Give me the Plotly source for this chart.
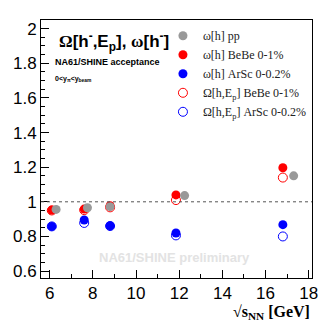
import plotly.graph_objects as go

# sqrt(s_NN) positions per system (slightly shifted in the original for visibility)
energy_pp = [6.3, 7.75, 8.8, 12.25, 17.3]
energy_bebe = [6.1, 7.6, 8.8, 11.85, 16.8]
energy_arsc = [6.1, 7.6, 8.8, 11.85, 16.8]

omega_pp = [0.956, 0.966, 0.972, 1.036, 1.15]
omega_bebe = [0.952, 0.958, 0.977, 1.04, 1.197]
omega_arsc = [0.858, 0.895, 0.862, 0.82, 0.868]
Omega_bebe = [0.95, 0.952, 0.968, 1.01, 1.14]
Omega_arsc = [0.858, 0.878, 0.86, 0.806, 0.80]

SERIF = "Liberation Serif"
SANS = "Liberation Sans"

fig = go.Figure()

# open markers first so the filled ones sit on top; legend order kept via rank
fig.add_trace(go.Scatter(
    x=energy_bebe, y=Omega_bebe, mode="markers",
    name="Ω[h,E<sub>p</sub>] BeBe 0-1%", legendrank=4,
    marker=dict(symbol="circle-open", size=9, color="#ff0000", line=dict(width=1)),
))
fig.add_trace(go.Scatter(
    x=energy_arsc, y=Omega_arsc, mode="markers",
    name="Ω[h,E<sub>p</sub>] ArSc 0-0.2%", legendrank=5,
    marker=dict(symbol="circle-open", size=9, color="#0000ff", line=dict(width=1)),
))
fig.add_trace(go.Scatter(
    x=energy_bebe, y=omega_bebe, mode="markers", name="ω[h] BeBe 0-1%",
    legendrank=2, marker=dict(symbol="circle", size=9, color="#ff0000"),
))
fig.add_trace(go.Scatter(
    x=energy_arsc, y=omega_arsc, mode="markers", name="ω[h] ArSc 0-0.2%",
    legendrank=3, marker=dict(symbol="circle", size=9, color="#0000ff"),
))
fig.add_trace(go.Scatter(
    x=energy_pp, y=omega_pp, mode="markers", name="ω[h] pp",
    legendrank=1, marker=dict(symbol="circle", size=9, color="#999999"),
))

fig.add_hline(y=1, line=dict(color="#555555", width=1, dash="dot"))

fig.update_layout(
    width=332, height=327,
    paper_bgcolor="white", plot_bgcolor="white",
    margin=dict(l=41, r=20, t=20, b=49, autoexpand=False),
    font=dict(family=SANS, size=17, color="black"),
    legend=dict(
        x=0.45, y=0.995, xanchor="left", yanchor="top",
        bgcolor="rgba(0,0,0,0)", borderwidth=0,
        font=dict(family=SERIF, size=12, color="#222222"),
        tracegroupgap=0, itemwidth=30,
    ),
)

fig.update_xaxes(
    range=[5.6, 18.15], dtick=2, tick0=6, automargin=False,
    showline=True, linecolor="black", linewidth=1, mirror=True,
    ticks="inside", ticklen=8, tickcolor="black",
    minor=dict(dtick=1, tick0=6, ticks="inside", ticklen=4, tickcolor="black"),
    showgrid=False, zeroline=False,
    tickfont=dict(family=SANS, size=17),
)
fig.update_yaxes(
    range=[0.56, 2.05], dtick=0.2, tick0=0.6, automargin=False,
    showline=True, linecolor="black", linewidth=1, mirror=True,
    ticks="inside", ticklen=8, tickcolor="black",
    minor=dict(dtick=0.05, tick0=0.6, ticks="inside", ticklen=4, tickcolor="black"),
    showgrid=False, zeroline=False,
    tickfont=dict(family=SANS, size=17),
)

annotations = [
    dict(text="<b><span style='font-family:Liberation Serif'>Ω</span>[h<sup>-</sup>,E<sub>p</sub>], "
              "<span style='font-family:Liberation Serif'>ω</span>[h<sup>-</sup>]</b>",
         x=0.06, y=0.915, xanchor="left", yanchor="middle",
         font=dict(family=SANS, size=17, color="black")),
    dict(text="<b>NA61/SHINE acceptance</b>",
         x=0.045, y=0.837, xanchor="left", yanchor="middle",
         font=dict(family=SANS, size=9, color="black")),
    dict(text="<b>0&lt;y<sub>π</sub>&lt;y<sub>beam</sub></b>",
         x=0.045, y=0.77, xanchor="left", yanchor="middle",
         font=dict(family=SANS, size=7, color="black")),
    dict(text="<b>NA61/SHINE preliminary</b>",
         x=0.494, y=0.081, xanchor="center", yanchor="middle",
         font=dict(family=SANS, size=13, color="#e3e3e3")),
    dict(text="<b>√s<sub>NN</sub> [GeV]</b>",
         x=1.0, y=-0.132, xanchor="right", yanchor="middle",
         font=dict(family=SERIF, size=16, color="black")),
]
for a in annotations:
    fig.add_annotation(xref="paper", yref="paper", showarrow=False, **a)

# the default page keeps an 8px body margin; drop it so the figure sits at 0,0
fig.write_html(
    "out.html",
    config={"displayModeBar": False},
    post_script="document.body.style.margin='0';",
)
